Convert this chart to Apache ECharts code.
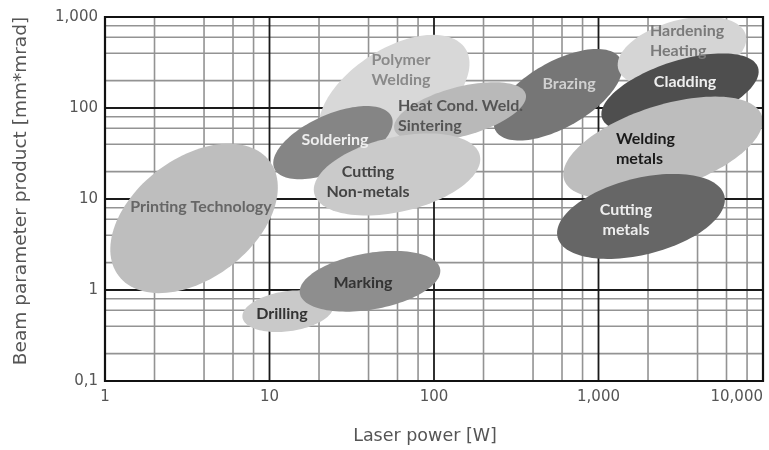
<!DOCTYPE html>
<html>
<head>
<meta charset="utf-8">
<script src="https://cdn.jsdelivr.net/npm/echarts@6/dist/echarts.min.js"></script>
<style>
  html, body { margin: 0; padding: 0; background: #fff; }
  #chart { width: 769px; height: 450px; }
</style>
</head>
<body>
<div id="chart"></div>
<script>
// ellipses: ends of the long axis (power W, bpp mm*mrad) and half thickness in bpp decades
var ellipseNames = ['Printing Technology', 'Polymer Welding', 'Brazing', 'Heat Cond. Weld.', 'Soldering',
    'Cutting Non-metals', 'Hardening Heating', 'Cladding', 'Welding metals', 'Cutting metals', 'Drilling', 'Marking'];
var powerFrom = [1.21, 21.1, 237, 57.4, 10.7, 18.7, 1318, 1050, 618, 564, 6.85, 15.3];
var bppFrom = [1.43, 43.4, 56.3, 58.3, 21.6, 11.5, 269, 77.6, 16.3, 3.80, 0.498, 0.914];
var powerTo = [10.0, 155, 1359, 361, 55.2, 190, 7857, 9330, 9840, 5821, 24.5, 109];
var bppTo = [26.2, 450, 347, 142, 80.2, 30.1, 637, 278, 82.4, 10.9, 0.687, 1.70];
var halfDecades = [0.66, 0.50, 0.36, 0.27, 0.31, 0.41, 0.35, 0.35, 0.46, 0.42, 0.22, 0.31];

// labels
var labelTexts = ['Printing Technology', 'Polymer\nWelding', 'Brazing', 'Heat Cond. Weld.\nSintering', 'Soldering',
    'Cutting\nNon-metals', 'Hardening\nHeating', 'Cladding', 'Welding\nmetals', 'Cutting\nmetals', 'Drilling', 'Marking'];
var labelPower = [3.83, 63, 662, 60.4, 25.0, 39.7, 2056, 3357, 1277, 1469, 11.9, 37.0];
var labelBpp = [8.28, 262, 184, 82.2, 44.9, 15.6, 546, 194, 35.7, 5.96, 0.542, 1.19];

// grid values
var majorPower = [10, 100, 1000];
var majorBpp = [1, 10, 100];
var minorPower = [2, 4, 6, 8, 20, 40, 60, 80, 200, 400, 600, 800, 2000, 4000, 6000, 8000];
var minorBpp = [0.2, 0.4, 0.6, 0.8, 2, 4, 6, 8, 20, 40, 60, 80, 200, 400, 600, 800];

// styles
var fills = ['#bebebe', '#d8d8d8', '#767676', '#b9b9b9', '#858585', '#cacaca',
    '#d5d5d5', '#4e4e4e', '#bdbdbd', '#666666', '#c9c9c9', '#8e8e8e'];
var textColors = ['#666666', '#8a8a8a', '#d0d0d0', '#555555', '#eeeeee', '#444444',
    '#7a7a7a', '#eeeeee', '#1a1a1a', '#eeeeee', '#333333', '#333333'];
var textAligns = ['center', 'center', 'center', 'left', 'center', 'center',
    'left', 'center', 'left', 'center', 'center', 'center'];

var fontFamily = 'DejaVu Sans';

function fmt(v) {
    if (v < 1) return String(Math.round(v * 10) / 10).replace('.', ',');
    return String(Math.round(v)).replace(/\B(?=(\d{3})+(?!\d))/g, ',');
}

var gridData = [];
minorPower.forEach(function (v) { gridData.push([v, 1, 0, 0]); });
minorBpp.forEach(function (v) { gridData.push([1, v, 1, 0]); });
majorPower.forEach(function (v) { gridData.push([v, 1, 0, 1]); });
majorBpp.forEach(function (v) { gridData.push([1, v, 1, 1]); });

var ellipseData = ellipseNames.map(function (n, i) {
    return { name: n, value: [powerFrom[i], bppFrom[i], powerTo[i], bppTo[i], halfDecades[i], i] };
});
var labelData = labelTexts.map(function (t, i) {
    return { name: t, value: [labelPower[i], labelBpp[i], i] };
});

var chart = echarts.init(document.getElementById('chart'));

chart.setOption({
    animation: false,
    grid: {
        left: 105, right: 6, top: 17, bottom: 68
    },
    xAxis: {
        type: 'log', logBase: 10, min: 1, max: 10000,
        name: 'Laser power [W]', nameLocation: 'middle', nameGap: 46,
        nameTextStyle: { fontFamily: fontFamily, fontSize: 17.5, color: '#555', padding: [0, 18, 0, 0] },
        axisLine: { show: false },
        axisTick: { show: false },
        splitLine: { show: false },
        axisLabel: {
            formatter: fmt, margin: 9, color: '#555',
            fontFamily: fontFamily, fontSize: 15,
            alignMaxLabel: 'right'
        }
    },
    yAxis: {
        type: 'log', logBase: 10, min: 0.1, max: 1000,
        name: 'Beam parameter product [mm*mrad]', nameLocation: 'middle', nameGap: 74,
        nameTextStyle: { fontFamily: fontFamily, fontSize: 18.5, color: '#555', padding: [0, 0, 0, 16] },
        axisLine: { show: false },
        axisTick: { show: false },
        splitLine: { show: false },
        axisLabel: {
            formatter: fmt, margin: 7, color: '#555',
            fontFamily: fontFamily, fontSize: 15
        }
    },
    series: [
        {
            // grid lines, under the ellipses
            type: 'custom', z: 1, silent: true,
            data: gridData,
            renderItem: function (params, api) {
                var cs = params.coordSys;
                var p = api.coord([api.value(0), api.value(1)]);
                var major = api.value(3) === 1;
                var shape = api.value(2) === 0
                    ? { x1: p[0], y1: cs.y, x2: p[0], y2: cs.y + cs.height }
                    : { x1: cs.x, y1: p[1], x2: cs.x + cs.width, y2: p[1] };
                return {
                    type: 'line', shape: shape, z2: major ? 2 : 1,
                    style: { stroke: major ? '#1a1a1a' : '#939393', lineWidth: major ? 1.8 : 1.6 }
                };
            }
        },
        {
            type: 'custom', z: 3, silent: true,
            data: ellipseData,
            renderItem: function (params, api) {
                var p1 = api.coord([api.value(0), api.value(1)]);
                var p2 = api.coord([api.value(2), api.value(3)]);
                var d0 = api.coord([1, 1]), d1 = api.coord([1, 10]);
                var decadePx = Math.abs(d0[1] - d1[1]);
                var cx = (p1[0] + p2[0]) / 2, cy = (p1[1] + p2[1]) / 2;
                var a = Math.sqrt(Math.pow(p2[0] - p1[0], 2) + Math.pow(p2[1] - p1[1], 2)) / 2;
                var b = api.value(4) * decadePx;
                var phi = Math.atan2(p2[1] - p1[1], p2[0] - p1[0]);
                var c = Math.cos(phi), s = Math.sin(phi);
                var pts = [];
                for (var k = 0; k < 120; k++) {
                    var t = k / 120 * Math.PI * 2;
                    var u = a * Math.cos(t), w = b * Math.sin(t);
                    pts.push([cx + u * c - w * s, cy + u * s + w * c]);
                }
                var cs = params.coordSys;
                return {
                    type: 'polygon',
                    shape: { points: pts },
                    style: { fill: fills[api.value(5)], stroke: null },
                    clipPath: { type: 'rect', shape: { x: cs.x, y: cs.y, width: cs.width, height: cs.height } }
                };
            }
        },
        {
            type: 'custom', z: 4, silent: true,
            data: labelData,
            renderItem: function (params, api) {
                var p = api.coord([api.value(0), api.value(1)]);
                var i = api.value(2);
                return {
                    type: 'text',
                    x: p[0], y: p[1],
                    style: {
                        text: labelTexts[i],
                        fill: textColors[i],
                        font: 'bold 16px Lato',
                        lineHeight: 20,
                        textAlign: textAligns[i],
                        textVerticalAlign: 'middle'
                    }
                };
            }
        },
        {
            // plot frame
            type: 'custom', z: 5, silent: true,
            data: [[1, 1]],
            renderItem: function (params, api) {
                var cs = params.coordSys;
                return {
                    type: 'rect',
                    shape: { x: cs.x, y: cs.y, width: cs.width, height: cs.height },
                    style: { fill: null, stroke: '#111', lineWidth: 2.2 }
                };
            }
        }
    ]
});
</script>
</body>
</html>
